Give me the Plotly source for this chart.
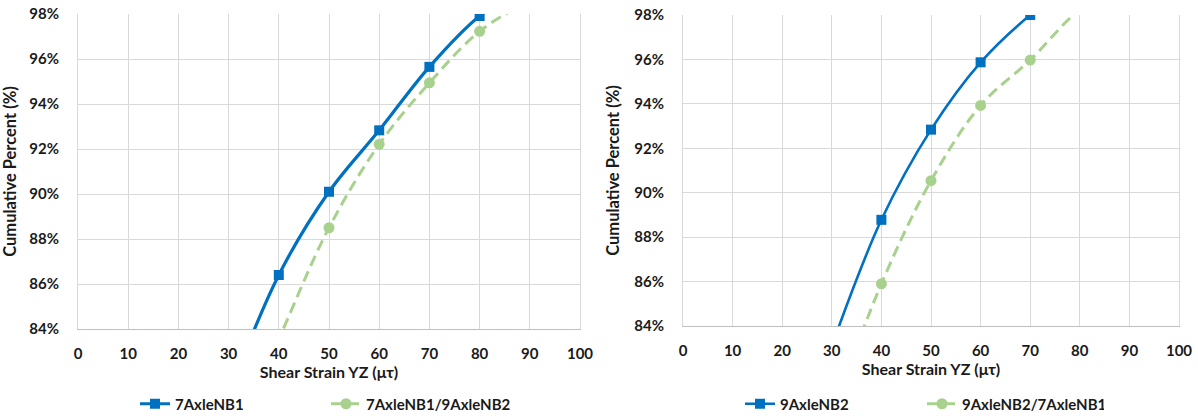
import plotly.graph_objects as go

# Shear strain bins (µτ) and cumulative percentages per vehicle configuration
strain = [30, 40, 50, 60, 70, 80, 90]

left_a_name = "7AxleNB1"
left_a_pct = [81.1, 86.4, 90.1, 92.83, 95.65, 97.91, 99.3]
left_b_name = "7AxleNB1/9AxleNB2"
left_b_pct = [78.5, 83.55, 88.5, 92.21, 94.94, 97.23, 98.6]

right_a_name = "9AxleNB2"
right_a_pct = [83.1, 88.78, 92.84, 95.87, 98.0, 99.6, 100.0]
right_b_name = "9AxleNB2/7AxleNB1"
right_b_pct = [80.0, 85.9, 90.54, 93.93, 95.97, 98.25, 99.6]

x_ticks = list(range(0, 101, 10))
y_ticks = list(range(84, 99, 2))
y_tick_text = [f"{v}%" for v in y_ticks]

BLUE = "#0070C0"
GREEN = "#A9D18E"
GRID = "#D9D9D9"
FONT = "Lato"
TXT = "#1a1a1a"

fig = go.Figure()


def add_pair(xa, ya, a_name, a_y, b_name, b_y, legend, blue_width):
    fig.add_trace(go.Scatter(
        x=strain, y=a_y, name=a_name, xaxis=xa, yaxis=ya, legend=legend,
        mode="lines+markers",
        line=dict(color=BLUE, width=blue_width, shape="spline", smoothing=1),
        marker=dict(symbol="square", size=10, color=BLUE),
    ))
    fig.add_trace(go.Scatter(
        x=strain, y=b_y, name=b_name, xaxis=xa, yaxis=ya, legend=legend,
        mode="lines+markers",
        line=dict(color=GREEN, width=3, dash="11px,6px", shape="spline", smoothing=1),
        marker=dict(symbol="circle", size=11, color=GREEN),
    ))


add_pair("x", "y", left_a_name, left_a_pct, left_b_name, left_b_pct, "legend", 3.2)
add_pair("x2", "y2", right_a_name, right_a_pct, right_b_name, right_b_pct, "legend2", 2.6)

W, H = 1198, 416


def xaxis(domain, anchor):
    return dict(
        domain=domain, anchor=anchor, range=[0, 100], tickvals=x_ticks,
        showgrid=True, gridcolor=GRID, gridwidth=1,
        showline=True, linecolor="#BFBFBF", linewidth=1, mirror=False,
        zeroline=False, ticks="outside", ticklen=11, tickcolor="rgba(0,0,0,0)",
        automargin=False,
        tickfont=dict(family=FONT, size=15, color=TXT, weight="bold"),
        title=dict(text="Shear Strain YZ (μτ)", standoff=2,
                   font=dict(family=FONT, size=16, color=TXT, weight="bold")),
    )


def yaxis(domain, anchor):
    return dict(
        domain=domain, anchor=anchor, range=[84, 98], tickvals=y_ticks,
        ticktext=y_tick_text,
        showgrid=True, gridcolor=GRID, gridwidth=1,
        showline=True, linecolor=GRID, linewidth=1, mirror=True,
        zeroline=False, ticks="outside", ticklen=15, tickcolor="rgba(0,0,0,0)",
        automargin=False,
        tickfont=dict(family=FONT, size=15, color=TXT, weight="bold"),
        title=dict(text="Cumulative Percent (%)", standoff=10,
                   font=dict(family=FONT, size=16.5, color=TXT, weight="bold")),
    )


legend_common = dict(
    orientation="h", yanchor="middle", y=1 - 404 / H, xanchor="left",
    font=dict(family=FONT, size=15, color=TXT, weight="bold"),
    bgcolor="rgba(0,0,0,0)", itemwidth=30, tracegroupgap=0,
)

fig.update_layout(
    width=W, height=H,
    margin=dict(l=0, r=0, t=0, b=0, autoexpand=False),
    paper_bgcolor="white", plot_bgcolor="white",
    showlegend=True,
    xaxis=xaxis([78 / W, 580 / W], "y"),
    yaxis=yaxis([1 - 329 / H, 1 - 14 / H], "x"),
    xaxis2=xaxis([683 / W, 1179 / W], "y2"),
    yaxis2=yaxis([1 - 326 / H, 1 - 15 / H], "x2"),
    legend=dict(legend_common, x=135 / W, entrywidth=146, entrywidthmode="pixels"),
    legend2=dict(legend_common, x=740 / W, entrywidth=137, entrywidthmode="pixels"),
)

fig.write_html("out.html", config={"displayModeBar": False})
